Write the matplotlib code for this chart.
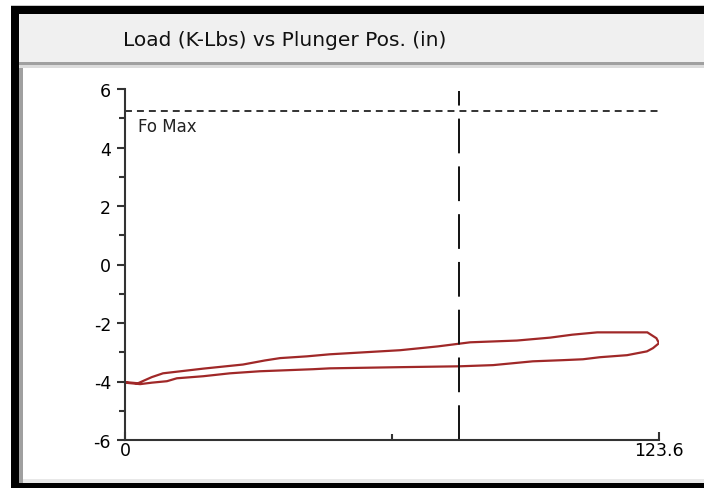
import matplotlib
matplotlib.use('Agg')
import matplotlib.pyplot as plt
from matplotlib.patches import Rectangle

plt.rcParams['font.family'] = ['DejaVu Sans']
plt.rcParams['lines.scale_dashes'] = False

# data
title = 'Load (K-Lbs) vs Plunger Pos. (in)'
x_max = 123.6
fo_max = 5.25
marker_pos = 77.3

upper_x = [0.0, 3.0, 6.2, 8.8, 12.3, 18.1, 27.3, 32.4, 35.9, 42.1, 47.4,
           63.7, 72.4, 79.9, 90.7, 98.4, 103.5, 109.3, 120.9, 123.0, 123.6]
upper_y = [-4.02, -4.06, -3.85, -3.72, -3.66, -3.56, -3.42, -3.28, -3.20,
           -3.14, -3.07, -2.93, -2.80, -2.66, -2.60, -2.50, -2.40, -2.32,
           -2.32, -2.52, -2.69]
lower_x = [122.2, 120.8, 116.2, 109.9, 106.0, 101.4, 94.4, 85.2, 77.5, 63.7,
           47.4, 43.5, 31.2, 24.3, 18.1, 12.0, 9.7, 6.2, 3.5, 0.0]
lower_y = [-2.86, -2.97, -3.10, -3.17, -3.24, -3.27, -3.31, -3.44, -3.48,
           -3.51, -3.55, -3.58, -3.65, -3.72, -3.82, -3.89, -3.99, -4.04,
           -4.09, -4.04]

W, H = 704, 489
fig = plt.figure(figsize=(W / 100, H / 100), dpi=100, facecolor='white')


def rect(x0, y0, x1, y1, color):
    # pixel box measured from the top left corner
    fig.patches.append(Rectangle((x0 / W, 1 - y1 / H), (x1 - x0) / W,
                                 (y1 - y0) / H, transform=fig.transFigure,
                                 facecolor=color, edgecolor='none', zorder=0))


# window frame
rect(11, 6, 704, 7, '#c8c8c8')
rect(11, 7, 704, 15, 'black')
rect(11, 7, 19, 489, 'black')
rect(11, 484, 704, 489, 'black')
rect(19, 15, 704, 63, '#f0f0f0')
rect(19, 63, 704, 66, '#a0a0a0')
rect(19, 66, 704, 69, '#dcdcdc')
rect(19, 69, 23, 484, '#a0a0a0')
rect(23, 480, 704, 484, '#e8e8e8')

fig.text(123 / W, 1 - 40 / H, title, ha='left', va='center', fontsize=14.5,
         color='#111111')

ax = fig.add_axes([125 / W, 48 / H, (659 - 125) / W, (441 - 90) / H])
ax.set_facecolor('none')

ax.plot(upper_x + lower_x, upper_y + lower_y, color='#a02828', lw=1.6,
        solid_joinstyle='miter')

ax.plot([0, x_max], [fo_max, fo_max], color='#333333', lw=1.4,
        dashes=(5, 3.6))
ax.text(3, fo_max - 0.22, 'Fo Max', fontsize=12, va='top', ha='left',
        color='#222222')
ax.axvline(marker_pos, ymin=0, ymax=0.995, color='#111111', lw=1.4,
           dashes=(25, 9.4))

ax.set_xlim(0, x_max)
ax.set_ylim(-6, 6)
ax.set_yticks(range(-6, 7, 2))
ax.set_yticks(range(-5, 6, 2), minor=True)
ax.set_xticks([0, x_max])
ax.set_xticklabels(['0', '123.6'])
ax.set_xticks([x_max / 2], minor=True)

for s in ['top', 'right']:
    ax.spines[s].set_visible(False)
for s in ['left', 'bottom']:
    ax.spines[s].set_linewidth(1.5)
    ax.spines[s].set_color('#333333')

ax.tick_params(axis='y', which='major', direction='out', length=6, width=1.5,
               color='#333333', labelsize=12.5, pad=4)
ax.tick_params(axis='y', which='minor', direction='out', length=4, width=1.5,
               color='#333333')
ax.tick_params(axis='x', which='major', direction='in', length=6, width=1.5,
               color='#333333', labelsize=12.5, pad=1)
ax.tick_params(axis='x', which='minor', direction='in', length=4, width=1.5,
               color='#333333')
ax.set_yticklabels(['-6', '-4', '-2', '0', '2', '4', '6'])

fig.savefig('out.png', dpi=100, facecolor='white')
plt.close(fig)
